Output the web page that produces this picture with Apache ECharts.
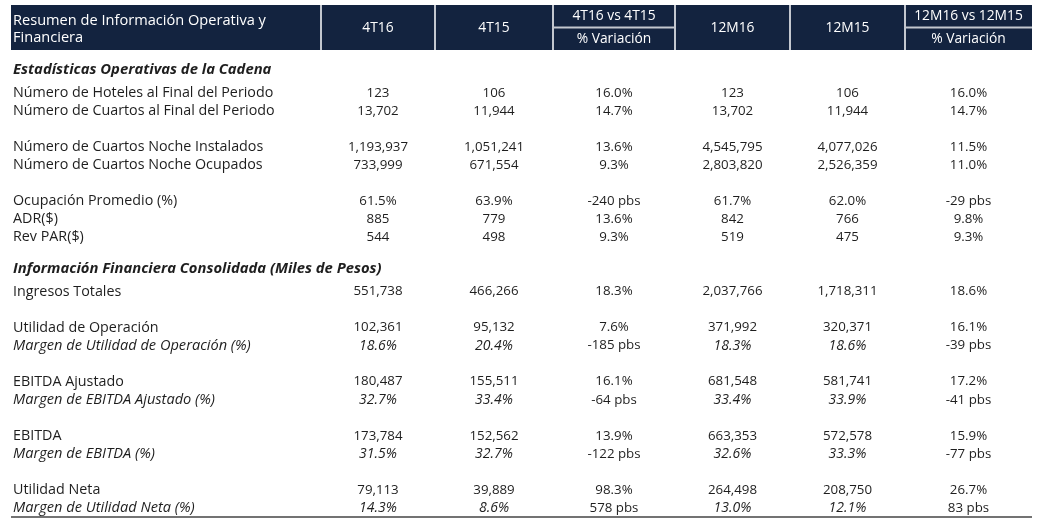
<!DOCTYPE html>
<html>
<head>
<meta charset="utf-8">
<script src="https://cdn.jsdelivr.net/npm/echarts@6.0.0/dist/echarts.min.js"></script>
<style>
html, body { margin: 0; padding: 0; background: #fff; }
#main { width: 1046px; height: 526px; }
</style>
</head>
<body>
<div id="main"></div>
<script>
// encabezados de la tabla
var headerNames = ['Resumen de Información Operativa y\nFinanciera', '4T16', '4T15', '4T16 vs 4T15', '12M16', '12M15', '12M16 vs 12M15'];
var headerSubs = ['', '', '', '% Variación', '', '', '% Variación'];

// filas: s = seccion, v = valor, m = margen (cursiva), '' = vacia
var rowKinds = ['s', 'v', 'v', '', 'v', 'v', '', 'v', 'v', 'v', '', 's', 'v', '', 'v', 'm', '', 'v', 'm', '', 'v', 'm', '', 'v', 'm'];
var rowLabels = [
    'Estadísticas Operativas de la Cadena',
    'Número de Hoteles al Final del Periodo',
    'Número de Cuartos al Final del Periodo',
    '',
    'Número de Cuartos Noche Instalados',
    'Número de Cuartos Noche Ocupados',
    '',
    'Ocupación Promedio (%)',
    'ADR($)',
    'Rev PAR($)',
    '',
    'Información Financiera Consolidada (Miles de Pesos)',
    'Ingresos Totales',
    '',
    'Utilidad de Operación',
    'Margen de Utilidad de Operación (%)',
    '',
    'EBITDA Ajustado',
    'Margen de EBITDA Ajustado (%)',
    '',
    'EBITDA',
    'Margen de EBITDA (%)',
    '',
    'Utilidad Neta',
    'Margen de Utilidad Neta (%)'
];
var v4T16 = ['', '123', '13,702', '', '1,193,937', '733,999', '', '61.5%', '885', '544', '', '', '551,738', '', '102,361', '18.6%', '', '180,487', '32.7%', '', '173,784', '31.5%', '', '79,113', '14.3%'];
var v4T15 = ['', '106', '11,944', '', '1,051,241', '671,554', '', '63.9%', '779', '498', '', '', '466,266', '', '95,132', '20.4%', '', '155,511', '33.4%', '', '152,562', '32.7%', '', '39,889', '8.6%'];
var varQ = ['', '16.0%', '14.7%', '', '13.6%', '9.3%', '', '-240 pbs', '13.6%', '9.3%', '', '', '18.3%', '', '7.6%', '-185 pbs', '', '16.1%', '-64 pbs', '', '13.9%', '-122 pbs', '', '98.3%', '578 pbs'];
var v12M16 = ['', '123', '13,702', '', '4,545,795', '2,803,820', '', '61.7%', '842', '519', '', '', '2,037,766', '', '371,992', '18.3%', '', '681,548', '33.4%', '', '663,353', '32.6%', '', '264,498', '13.0%'];
var v12M15 = ['', '106', '11,944', '', '4,077,026', '2,526,359', '', '62.0%', '766', '475', '', '', '1,718,311', '', '320,371', '18.6%', '', '581,741', '33.9%', '', '572,578', '33.3%', '', '208,750', '12.1%'];
var varY = ['', '16.0%', '14.7%', '', '11.5%', '11.0%', '', '-29 pbs', '9.8%', '9.3%', '', '', '18.6%', '', '16.1%', '-39 pbs', '', '17.2%', '-41 pbs', '', '15.9%', '-77 pbs', '', '26.7%', '83 pbs'];

var valueCols = [v4T16, v4T15, varQ, v12M16, v12M15, varY];
var isVarCol = [false, false, true, false, false, true];

// bordes de columnas (unidades del eje x)
var colEdges = [0, 310, 424, 542, 664, 779, 894, 1021];
var FONT = "'Open Sans'";
var navy = '#13233f';
var ink = '#1e1e1e';

var dom = document.getElementById('main');
var myChart = echarts.init(dom);

function renderHeader(params, api) {
    var c = api.value(0);
    var p0 = api.coord([colEdges[c], 0]);
    var p1 = api.coord([colEdges[c + 1], 2]);
    var w = p1[0] - p0[0], h = p1[1] - p0[1];
    var kids = [{
        type: 'rect',
        shape: { x: p0[0], y: p0[1], width: w, height: h },
        style: { fill: navy }
    }];
    if (c > 0) {
        kids.push({
            type: 'line',
            shape: { x1: p0[0], y1: p0[1], x2: p0[0], y2: p1[1] },
            style: { stroke: '#c3c7cf', lineWidth: 2 }
        });
    }
    var font = '13.8px ' + FONT;
    if (headerSubs[c]) {
        var mid = api.coord([0, 1])[1];
        kids.push({
            type: 'line',
            shape: { x1: p0[0], y1: mid, x2: p1[0], y2: mid },
            style: { stroke: '#c3c7cf', lineWidth: 2 }
        });
        kids.push({ type: 'text', x: p0[0] + w / 2, y: p0[1] + h * 0.25,
            style: { text: headerNames[c], fill: '#fff', font: font, align: 'center', verticalAlign: 'middle' } });
        kids.push({ type: 'text', x: p0[0] + w / 2, y: p0[1] + h * 0.76,
            style: { text: headerSubs[c], fill: '#fff', font: font, align: 'center', verticalAlign: 'middle' } });
    } else if (c === 0) {
        kids.push({ type: 'text', x: p0[0] + 2, y: p0[1] + h / 2 + 2,
            style: { text: headerNames[c], fill: '#fff', font: '14.6px ' + FONT, align: 'left', verticalAlign: 'middle', lineHeight: 17 } });
    } else {
        kids.push({ type: 'text', x: p0[0] + w / 2, y: p0[1] + h / 2 + 1,
            style: { text: headerNames[c], fill: '#fff', font: font, align: 'center', verticalAlign: 'middle' } });
    }
    return { type: 'group', children: kids };
}

function makeBodyRender(col) {
    return function (params, api) {
        var r = api.value(1);
        var kind = rowKinds[r];
        var kids = [];
        if (col < 0) {
            var p = api.coord([colEdges[0], r]);
            var font = '14.3px ' + FONT;
            var dy = 0;
            if (kind === 's') { font = 'italic bold 14.8px ' + FONT; dy = -5; }
            if (kind === 'm') font = 'italic 14.6px ' + FONT;
            kids.push({ type: 'text', x: p[0] + 2, y: p[1] + dy,
                style: { text: rowLabels[r], fill: ink, font: font, align: 'left', verticalAlign: 'middle' } });
            if (r === rowKinds.length - 1) {
                var band = api.size([0, 1])[1];
                var q = api.coord([colEdges[colEdges.length - 1], r]);
                kids.push({ type: 'line',
                    shape: { x1: p[0], y1: p[1] + band / 2, x2: q[0], y2: p[1] + band / 2 },
                    style: { stroke: '#444', lineWidth: 1.5 } });
            }
        } else {
            var cx = (colEdges[col + 1] + colEdges[col + 2]) / 2;
            var pc = api.coord([cx, r]);
            var f = (kind === 'm' && !isVarCol[col]) ? 'italic 14px ' : '13.3px ';
            kids.push({ type: 'text', x: pc[0], y: pc[1],
                style: { text: valueCols[col][r], fill: ink, font: f + FONT, align: 'center', verticalAlign: 'middle' } });
        }
        return { type: 'group', children: kids };
    };
}

var rowIdx = rowLabels.map(function (d, i) { return [0, i]; });
var series = [{
    type: 'custom',
    xAxisIndex: 0, yAxisIndex: 0,
    renderItem: renderHeader,
    data: headerNames.map(function (d, i) { return [i]; }),
    silent: true
}, {
    type: 'custom',
    xAxisIndex: 1, yAxisIndex: 1,
    renderItem: makeBodyRender(-1),
    data: rowIdx,
    silent: true
}];
valueCols.forEach(function (c, i) {
    series.push({
        type: 'custom',
        xAxisIndex: 1, yAxisIndex: 1,
        renderItem: makeBodyRender(i),
        data: rowIdx,
        silent: true
    });
});

option = {
    animation: false,
    grid: [
        { left: 11, right: 14, top: 5, height: 45 },
        { left: 11, right: 14, top: 66, height: 451 }
    ],
    xAxis: [
        { type: 'value', gridIndex: 0, min: 0, max: 1021, show: false },
        { type: 'value', gridIndex: 1, min: 0, max: 1021, show: false }
    ],
    yAxis: [
        { type: 'value', gridIndex: 0, min: 0, max: 2, inverse: true, show: false },
        { type: 'category', gridIndex: 1, inverse: true, show: false,
          data: rowLabels.map(function (d, i) { return String(i); }) }
    ],
    series: series
};
if (option && typeof option === "object") {
    myChart.setOption(option);
}
</script>
</body>
</html>
